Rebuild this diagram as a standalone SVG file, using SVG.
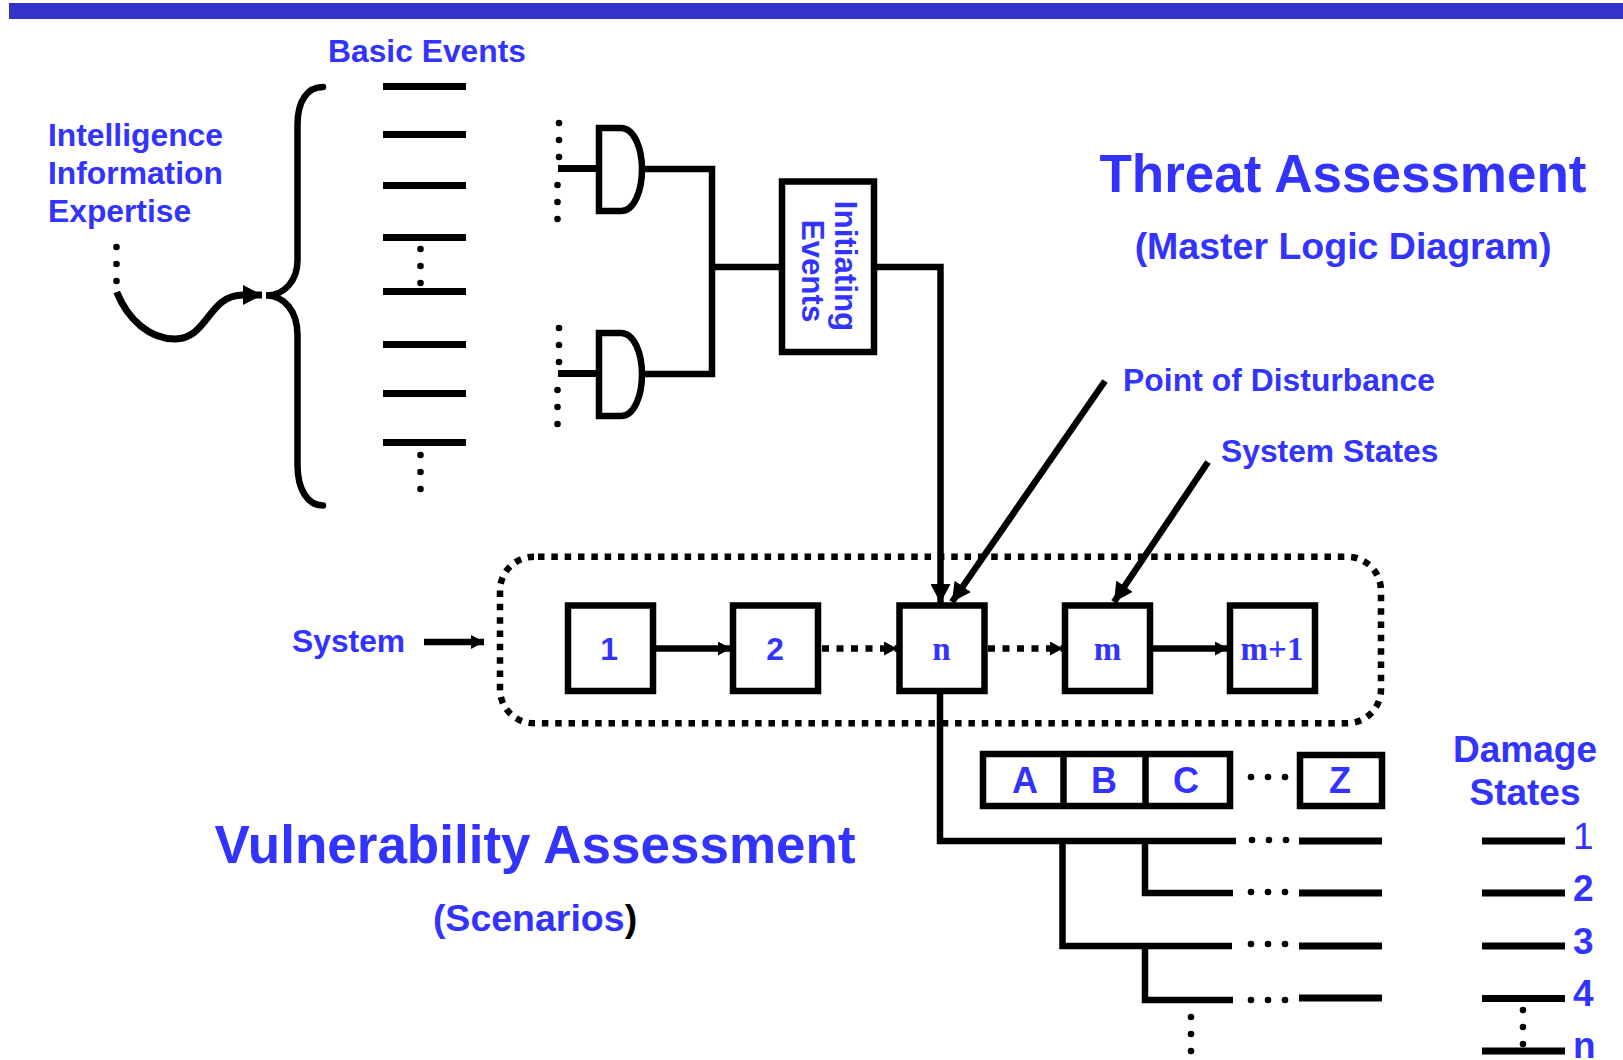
<svg xmlns="http://www.w3.org/2000/svg" width="1623" height="1060" viewBox="0 0 1623 1060">
<style>
text{font-family:"Liberation Sans",Arial,sans-serif;font-weight:bold;fill:#3333ff}
.s{font-family:"Liberation Serif","Times New Roman",serif;font-size:33px}
.m{text-anchor:middle}
.l{stroke:#000;stroke-width:6.500;fill:none}
.t{stroke:#000;stroke-width:7;fill:none}
.b{fill:#fff;stroke:#000;stroke-width:6.500}
.d{fill:#000}
.big{font-size:53px}
.mid{font-size:37.500px}
.lab{font-size:31.800px}
.ie{font-size:31.300px}
.n{font-size:36px}
.ds{font-size:37px}
</style>
<defs>
<marker id="ah" markerUnits="userSpaceOnUse" markerWidth="20" markerHeight="20" refX="19" refY="10" orient="auto"><path d="M0 0L19 10L0 20Z"/></marker>
<marker id="as" markerUnits="userSpaceOnUse" markerWidth="13" markerHeight="14" refX="13" refY="7" orient="auto"><path d="M0 0L13 7L0 14Z"/></marker>
<g id="v3"><circle cx="0" cy="0" r="3.300" class="d"/><circle cx="0" cy="17" r="3.300" class="d"/><circle cx="0" cy="34" r="3.300" class="d"/></g>
<g id="h3"><circle cx="0" cy="0" r="3.300" class="d"/><circle cx="17" cy="0" r="3.300" class="d"/><circle cx="34" cy="0" r="3.300" class="d"/></g>
</defs>
<rect id="top-bar" x="9" y="3" width="1614" height="16" fill="#3333cc"/>

<g id="title-threat"><text class="big m" x="1343" y="192">Threat Assessment</text><text class="mid m" x="1343" y="259">(Master Logic Diagram)</text></g>
<g id="title-vulnerability"><text class="big m" x="535" y="863">Vulnerability Assessment</text><text class="mid m" x="535" y="931">(Scenarios<tspan style="fill:#000">)</tspan></text></g>

<g id="sources"><text class="lab" x="48" y="146">Intelligence</text><text class="lab" x="48" y="184">Information</text><text class="lab" x="48" y="222">Expertise</text><use href="#v3" x="116.500" y="247"/></g>

<g id="basic-events">
<text class="lab" x="328" y="62">Basic Events</text>
<path class="t" d="M383 86.500H466M383 134.500H466M383 185.500H466M383 237.500H466M383 291.500H466M383 344.500H466M383 393.500H466M383 442.500H466"/>
<use href="#v3" x="420.500" y="249"/><use href="#v3" x="420.500" y="455"/>
</g>
<path id="brace" class="l" stroke-linecap="round" d="M323 87C308 87 297.500 100 297.500 125V260C297.500 280 285 295.500 266 295.500C285 295.500 297.500 312 297.500 335V465C297.500 490 308 505.500 323 505.500"/>

<g id="gate-1"><use href="#v3" x="559" y="123"/><use href="#v3" x="557.500" y="185"/><path class="b" d="M599 128H621C634 128 642 148 642 169.500C642 191 634 211 621 211H599Z"/></g>
<g id="gate-2"><use href="#v3" x="559" y="328"/><use href="#v3" x="557.500" y="390"/><path class="b" d="M599 333H621C634 333 642 353 642 374.500C642 396 634 416 621 416H599Z"/></g>

<g id="connectors">
<path class="t" marker-end="url(#ah)" d="M116.700 292C128 320 150 339 175 339C208 339 208 295 243 295L262 295"/>
<path class="t" d="M558 168.500H597M558 373.500H597"/>
<path class="l" d="M642 169H712V374H642M712 267H782"/>
<path class="l" marker-end="url(#ah)" d="M874 267H940.500V603"/>
<path class="l" marker-end="url(#ah)" d="M1105 381L952 602"/>
<path class="l" marker-end="url(#ah)" d="M1208 462L1114 602"/>
<path class="l" marker-end="url(#as)" d="M424 642H484"/>
<path class="l" marker-end="url(#as)" d="M653 648.500H731"/>
<path class="l" marker-end="url(#as)" d="M1150 648.500H1228"/>
<path class="l" stroke-dasharray="7 7.500" marker-end="url(#as)" d="M822 648.500H897"/>
<path class="l" stroke-dasharray="7 7.500" marker-end="url(#as)" d="M988 648.500H1063"/>
<path class="l" d="M940 694V841H1236M1062.500 841V946H1232M1145 841V893H1233M1145 946V1000H1233"/>
</g>

<rect id="system-boundary" x="500" y="556.700" width="881" height="166.600" rx="34" fill="none" stroke="#000" stroke-width="6.500" stroke-dasharray="6.500 6.830" stroke-dashoffset="-4"/>

<g id="initiating-events"><rect class="b" x="782" y="181.500" width="92" height="170.500"/><g transform="translate(835 266) rotate(90)"><text class="ie m" x="0" y="0">Initiating</text><text class="ie m" x="5" y="33">Events</text></g></g>

<text id="label-disturbance" class="lab" x="1123" y="391" textLength="312">Point of Disturbance</text>
<text id="label-system-states" class="lab" x="1221" y="462">System States</text>
<text id="label-system" class="lab" x="292" y="652">System</text>

<g id="node-1"><rect class="b" x="568" y="605.500" width="85" height="85.500"/><text class="lab m" x="609" y="660">1</text></g>
<g id="node-2"><rect class="b" x="733" y="605.500" width="85" height="85.500"/><text class="lab m" x="775" y="660">2</text></g>
<g id="node-n"><rect class="b" x="899.500" y="605.500" width="85" height="85.500"/><text class="s m" x="941.500" y="660">n</text></g>
<g id="node-m"><rect class="b" x="1065" y="605.500" width="85" height="85.500"/><text class="s m" x="1107.500" y="660">m</text></g>
<g id="node-m1"><rect class="b" x="1230" y="605.500" width="85" height="85.500"/><text class="s m" x="1272" y="660">m+1</text></g>

<g id="events-abc"><rect class="b" x="983" y="754" width="247" height="52"/><path class="l" d="M1063.500 754V806M1145.500 754V806"/>
<text class="n m" x="1025" y="793">A</text><text class="n m" x="1104" y="793">B</text><text class="n m" x="1186" y="793">C</text></g>
<use id="events-dots" href="#h3" x="1251" y="777"/>
<g id="event-z"><rect class="b" x="1300" y="755" width="82" height="51"/><text class="n m" x="1340" y="793">Z</text></g>

<g id="sequence-ends">
<use href="#h3" x="1252" y="840"/><use href="#h3" x="1251" y="892"/><use href="#h3" x="1251" y="944"/><use href="#h3" x="1251" y="1000"/>
<path class="t" d="M1299 841H1382M1299 893H1382M1299 946H1382M1299 998H1382"/>
<use href="#v3" x="1191" y="1017"/>
</g>

<g id="damage-states">
<text class="ds m" x="1525" y="762">Damage</text><text class="ds m" x="1525" y="805">States</text>
<path class="t" d="M1482 841H1565M1482 893H1565M1482 946H1565M1482 998.500H1565M1482 1051H1565"/>
<use href="#v3" x="1523" y="1010"/>
<text class="ds" x="1573" y="849" style="font-weight:normal">1</text><text class="ds" x="1573" y="901">2</text><text class="ds" x="1573" y="954">3</text><text class="ds" x="1573" y="1006">4</text><text class="ds" x="1573" y="1058">n</text>
</g>
</svg>
